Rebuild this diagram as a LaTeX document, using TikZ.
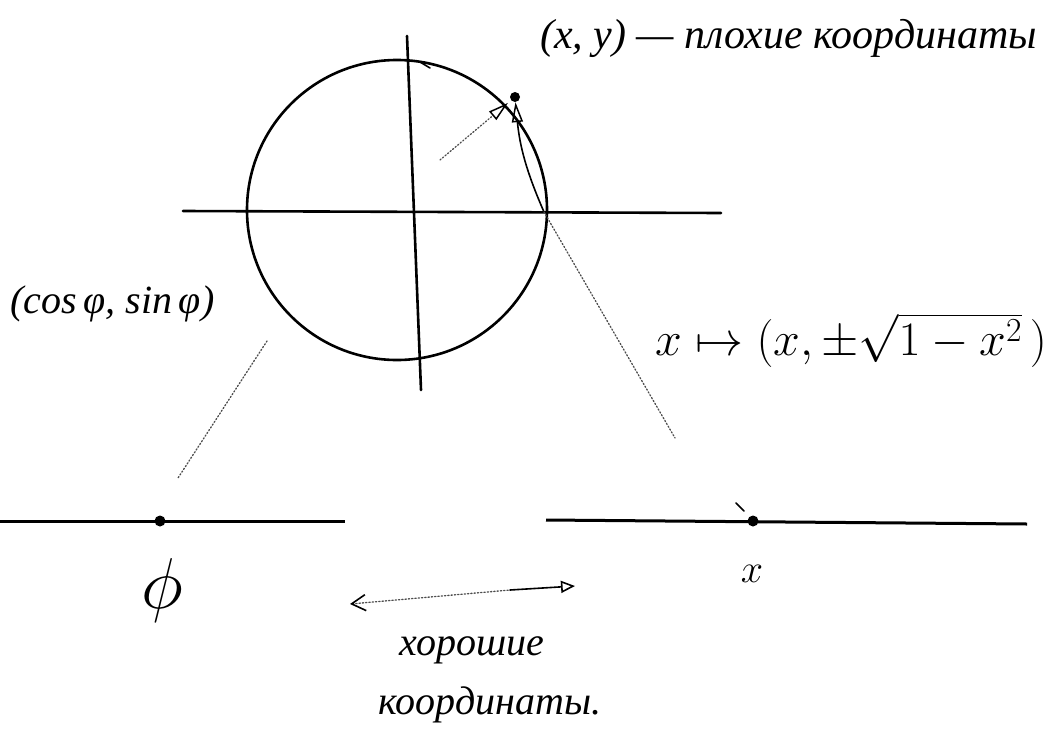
\RequirePackage{fix-cm}
\documentclass[tikz,border=0pt]{standalone}
\usepackage{fontspec}
\setmainfont{Liberation Serif}
\usetikzlibrary{arrows.meta}
\begin{document}
\begin{tikzpicture}[x=1pt,y=-1pt,
  stroke/.style={line width=2.6pt, line cap=round},
  thinstroke/.style={line width=1.6pt, line cap=round},
  dotline/.style={line width=1.3pt, dotted, gray!60!black, line cap=round},
  pt/.style={circle, fill=black, inner sep=0pt, minimum size=10pt},
  lbl/.style={inner sep=0pt, font=\fontsize{40}{48}\selectfont\itshape},
  openhead/.style={-{Triangle[open, length=20pt, width=11pt, line width=1.5pt, color=black]}}]
\useasboundingbox (0,0) rectangle (1064,736);

% circle and axes
\node[draw, circle, minimum size=300pt, inner sep=0pt, stroke] (C) at (397,210) {};
\coordinate (hl) at (183,211);
\coordinate (hr) at (721,213);
\coordinate (vt) at (407,36);
\coordinate (vb) at (421,390);
\draw[stroke] (hl) -- (hr);
\draw[stroke] (vt) -- (vb);
\coordinate (m1) at (420,62);
\coordinate (m2) at (430,68);
\draw[thinstroke] (m1) -- (m2);

% point on the circle
\node[pt] (P) at (515,97) {};
\coordinate (Q) at (544,212);
\coordinate (D0) at (440,160);
\draw[dotline, openhead, shorten >=4pt] (D0) -- (P);
\draw[thinstroke, openhead] (Q) to[bend left=9] (P);

% projections
\coordinate (Qe) at (675,438);
\draw[dotline] (Q) -- (Qe);
\coordinate (Ls) at (267,341);
\coordinate (Le) at (178,478);
\draw[dotline] (Ls) -- (Le);

% bottom lines
\coordinate (l1) at (0,521);
\coordinate (l2) at (345,521);
\coordinate (r1) at (546,520);
\coordinate (r2) at (1027,524);
\draw[line width=3pt] (l1) -- (l2);
\draw[line width=3pt] (r1) -- (r2);
\node[pt, minimum size=11pt] (phidot) at (160,521) {};
\node[pt, minimum size=11pt] (xdot) at (753,521) {};
\coordinate (t1) at (736,503);
\coordinate (t2) at (744,511);
\draw[thinstroke] (t1) -- (t2);

% labels
\node[lbl, anchor=west] (bad) at (540,38) {\fontsize{42}{48}\selectfont (x, y) — плохие координаты};
\node[lbl, anchor=west] (polar) at (10,304) {(cos\,φ, sin\,φ)};
\node[lbl, anchor=west, font=\fontsize{48}{56}\selectfont] (map) at (655,340) {$x \mapsto (x, \pm\sqrt{1-x^2}\,)$};
\node[inner sep=0pt, font=\fontsize{72}{80}\selectfont] (phi) at (162,590) {$\phi$};
\node[lbl] (xl) at (752,574) {$x$};
\node[lbl] (good1) at (472,650) {хорошие};
\node[lbl] (good2) at (490,705) {координаты.};

% double arrow
\coordinate (aL) at (350,604);
\coordinate (aM) at (510,590);
\coordinate (aR) at (575,586);
\draw[dotline, {Straight Barb[length=14pt, width=16pt, line width=1.6pt, color=black]}-] (aL) -- (aM);
\draw[thinstroke, -{Triangle[open, length=14pt, width=12pt, line width=1.6pt]}] (aM) -- (aR);
\end{tikzpicture}
\end{document}
